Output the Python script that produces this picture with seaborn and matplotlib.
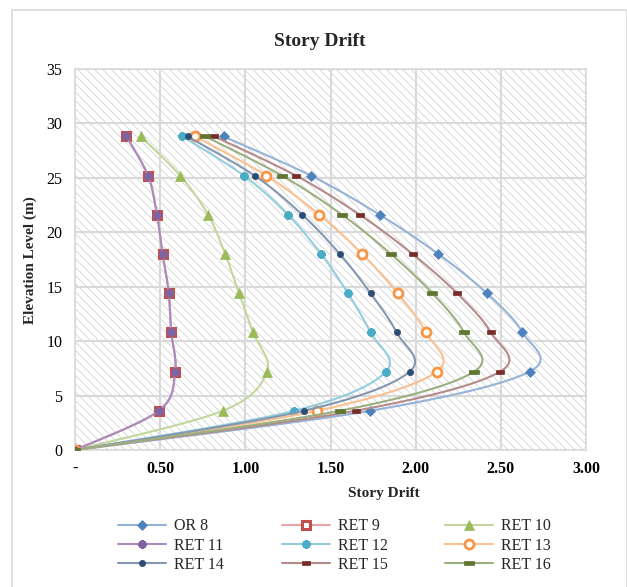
import numpy as np
import pandas as pd
import matplotlib
matplotlib.use("Agg")
import matplotlib.pyplot as plt
import seaborn as sns
from matplotlib.lines import Line2D
from matplotlib.patches import Rectangle
from matplotlib.path import Path
from matplotlib.ticker import FuncFormatter

# ---------------- data ----------------
elevation = [0, 3.6, 7.2, 10.8, 14.4, 18.0, 21.6, 25.2, 28.8]
series_names = ["OR 8", "RET 9", "RET 10", "RET 11", "RET 12",
                "RET 13", "RET 14", "RET 15", "RET 16"]
or8 = [0, 1.733, 2.669, 2.627, 2.418, 2.133, 1.790, 1.386, 0.872]
ret9 = [0, 0.492, 0.588, 0.565, 0.551, 0.514, 0.482, 0.429, 0.302]
ret10 = [0, 0.867, 1.127, 1.045, 0.963, 0.882, 0.782, 0.618, 0.386]
ret11 = [0, 0.492, 0.588, 0.565, 0.551, 0.514, 0.482, 0.429, 0.302]
ret12 = [0, 1.288, 1.826, 1.735, 1.602, 1.445, 1.251, 0.992, 0.631]
ret13 = [0, 1.421, 2.124, 2.059, 1.894, 1.686, 1.435, 1.124, 0.706]
ret14 = [0, 1.343, 1.965, 1.888, 1.735, 1.555, 1.335, 1.055, 0.661]
ret15 = [0, 1.647, 2.496, 2.441, 2.243, 1.982, 1.673, 1.298, 0.818]
ret16 = [0, 1.555, 2.343, 2.284, 2.098, 1.855, 1.569, 1.216, 0.765]
drift_values = [or8, ret9, ret10, ret11, ret12, ret13, ret14, ret15, ret16]
x_ticks = [0, 0.5, 1.0, 1.5, 2.0, 2.5, 3.0]
y_ticks = [0, 5, 10, 15, 20, 25, 30, 35]

# ---------------- style ----------------
sns.set_style("white")
plt.rcParams["font.family"] = ["Liberation Serif", "DejaVu Serif"]
plt.rcParams["hatch.linewidth"] = 0.5
plt.rcParams["hatch.color"] = "#cccccc"

dash = Path([(-1, -0.45), (1, -0.45), (1, 0.45), (-1, 0.45), (-1, -0.45)],
            [Path.MOVETO, Path.LINETO, Path.LINETO, Path.LINETO, Path.CLOSEPOLY])

styles = [
    dict(lc="#95b3d7", mc="#4f81bd", marker="D", ms=5.5, mfc="#4f81bd", mew=0.5),
    dict(lc="#e6a5a4", mc="#c0504d", marker="s", ms=6.2, mfc="white", mew=2.2),
    dict(lc="#c3d69b", mc="#9bbb59", marker="^", ms=7.0, mfc="#9bbb59", mew=0.5),
    dict(lc="#a98bbd", mc="#8064a2", marker=(8, 2, 0), ms=6.0, mfc="#8064a2", mew=1.8),
    dict(lc="#93cddd", mc="#4bacc6", marker=(8, 2, 0), ms=6.0, mfc="#4bacc6", mew=1.8),
    dict(lc="#fac090", mc="#f79646", marker="o", ms=6.5, mfc="white", mew=2.0),
    dict(lc="#8497b0", mc="#2c4d75", marker="o", ms=4.5, mfc="#2c4d75", mew=0.5),
    dict(lc="#b58b8a", mc="#772c2a", marker=dash, ms=5.5, mfc="#772c2a", mew=0.5),
    dict(lc="#9baf7f", mc="#5f7530", marker=dash, ms=7.5, mfc="#5f7530", mew=0.5),
]


def excel_smooth(x, y, n=30):
    P = np.column_stack([x, y]).astype(float)
    out = [P[0]]
    t = np.linspace(0, 1, n)[1:, None]
    for i in range(len(P) - 1):
        p0 = P[max(i - 1, 0)]
        p1 = P[i]
        p2 = P[i + 1]
        p3 = P[min(i + 2, len(P) - 1)]
        c1 = p1 + (p2 - p0) / 6.0
        c2 = p2 - (p3 - p1) / 6.0
        seg = (1 - t) ** 3 * p1 + 3 * (1 - t) ** 2 * t * c1 + 3 * (1 - t) * t ** 2 * c2 + t ** 3 * p2
        out.extend(seg)
    return np.array(out)


W, H = 627, 587
fig = plt.figure(figsize=(W / 100, H / 100), dpi=100)
ax = fig.add_axes([75 / W, 1 - 450 / H, (586 - 75) / W, (450 - 69) / H])

# chart border
fig.patches.append(Rectangle((11.5 / W, -0.02), (626.5 - 11.5) / W, 1 - 9.5 / H + 0.02,
                             transform=fig.transFigure, fill=False,
                             edgecolor="#d9d9d9", lw=1.2, zorder=0))

# hatched plot area
ax.add_patch(Rectangle((0, 0), 1, 1, transform=ax.transAxes, facecolor="white",
                       edgecolor="#cccccc", lw=0, hatch="\\\\\\\\", zorder=0.1))

for i, (name, vals, st) in enumerate(zip(series_names, drift_values, styles)):
    sm = excel_smooth(vals, elevation)
    df = pd.DataFrame({"drift": sm[:, 0], "elev": sm[:, 1]})
    sns.lineplot(data=df, x="drift", y="elev", sort=False, estimator=None, ax=ax,
                 color=st["lc"], lw=1.5, zorder=2 + i * 0.1)
    ax.plot(vals, elevation, linestyle="none", marker=st["marker"], ms=st["ms"],
            mfc=st["mfc"], mec=st["mc"], mew=st["mew"], zorder=2.05 + i * 0.1)

ax.set_xlim(0, 3.0)
ax.set_ylim(0, 35)
ax.set_xticks(x_ticks)
ax.set_yticks(y_ticks)
ax.xaxis.set_major_formatter(FuncFormatter(lambda v, p: "-" if abs(v) < 1e-9 else f"{v:.2f}"))
ax.grid(True, color="#d9d9d9", lw=1.5)
ax.set_axisbelow(True)
for s in ax.spines.values():
    s.set_color("#d9d9d9")
    s.set_linewidth(1.2)
ax.tick_params(axis="both", length=0, labelsize=11.5, colors="black")
ax.tick_params(axis="y", pad=9)
ax.tick_params(axis="x", pad=8)
for lab in ax.get_xticklabels():
    lab.set_fontweight("bold")
ax.set_xlabel("")
ax.set_ylabel("")

fig.text(320 / W, 1 - 41 / H, "Story Drift", ha="center", va="center",
         fontsize=14, fontweight="bold")
fig.text(384 / W, 1 - 493 / H, "Story Drift", ha="center", va="center",
         fontsize=11, fontweight="bold")
fig.text(30 / W, 1 - 260 / H, "Elevation Level (m)", ha="center", va="center",
         rotation=90, fontsize=11, fontweight="bold")

handles = []
for name, st in zip(series_names, styles):
    handles.append(Line2D([], [], color=st["lc"], lw=1.5, marker=st["marker"], ms=st["ms"],
                          mfc=st["mfc"], mec=st["mc"], mew=st["mew"], label=name))
order = [0, 3, 6, 1, 4, 7, 2, 5, 8]
hs = [handles[k] for k in order]
fig.legend(handles=hs, labels=[h.get_label() for h in hs], ncol=3, loc="center",
           bbox_to_anchor=(334.5 / W, 1 - 545.5 / H), frameon=False, fontsize=11.5,
           handlelength=3.0, handletextpad=0.5, columnspacing=3.6, labelspacing=0.2,
           borderpad=0, borderaxespad=0)

fig.savefig("out.png", dpi=100)
